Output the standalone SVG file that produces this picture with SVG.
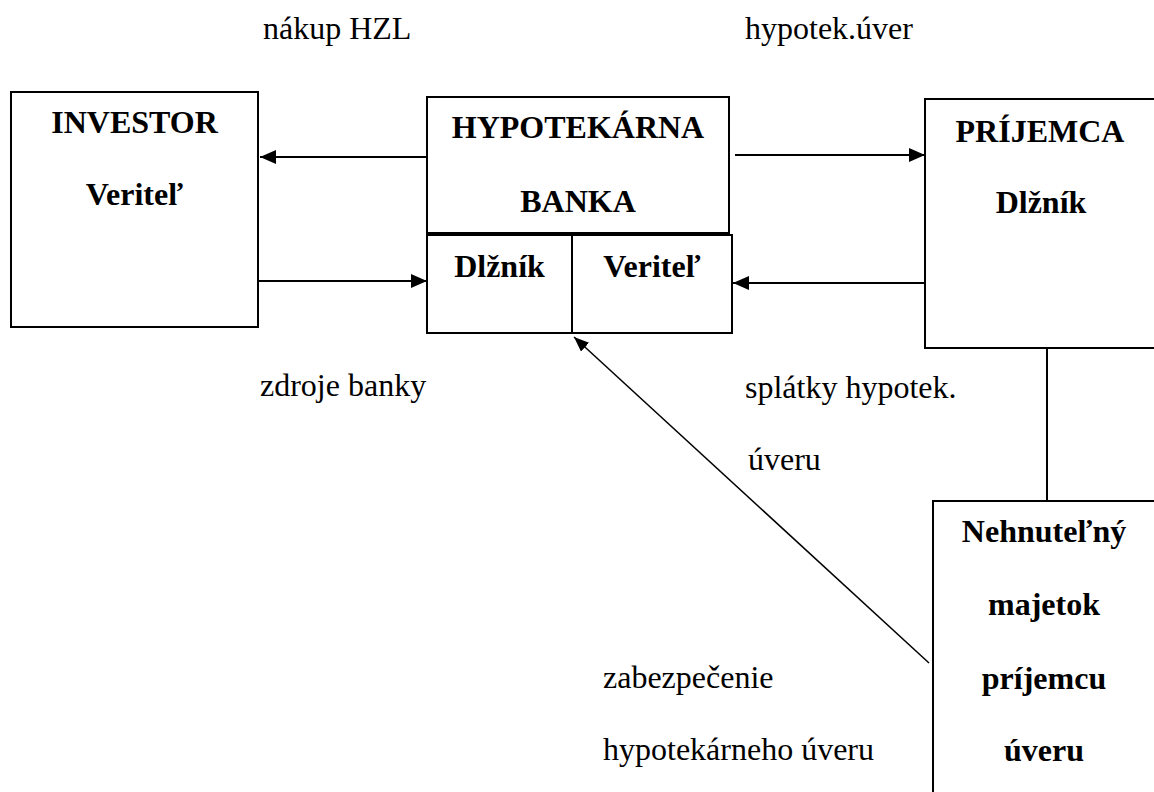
<svg xmlns="http://www.w3.org/2000/svg" width="1154" height="792" viewBox="0 0 1154 792" font-family="'Liberation Serif', 'DejaVu Serif', serif">
<style>
.box{fill:#fff;stroke:#000;stroke-width:2}
text{font-family:'Liberation Serif','DejaVu Serif',serif;font-size:32px;fill:#000}
.b{font-weight:bold;text-anchor:middle}
.c{stroke:#000;stroke-width:2;fill:none}
.d{stroke:#000;stroke-width:1.5;fill:none}
</style>
<defs>
<marker id="ah" markerUnits="userSpaceOnUse" markerWidth="18" markerHeight="16" refX="16" refY="7" orient="auto">
<path d="M0,0 L16,7 L0,14 Z" fill="#000"/>
</marker>
<marker id="ah2" markerUnits="userSpaceOnUse" markerWidth="16" markerHeight="14" refX="15" refY="6" orient="auto">
<path d="M0,0 L15,6 L0,12 Z" fill="#000"/>
</marker>
</defs>
<rect width="1154" height="792" fill="#fff"/>
<g id="investor">
<rect class="box" x="11" y="92" width="247" height="235"/>
<text class="b" x="134.5" y="133">INVESTOR</text>
<text class="b" x="134.5" y="205">Veriteľ</text>
</g>
<g id="banka">
<rect class="box" x="427" y="97" width="302" height="136"/>
<text class="b" x="578" y="138">HYPOTEKÁRNA</text>
<text class="b" x="578" y="212">BANKA</text>
</g>
<g id="banka-dlznik">
<rect class="box" x="427" y="235" width="145" height="98"/>
<text class="b" x="499.5" y="277">Dlžník</text>
</g>
<g id="banka-veritel">
<rect class="box" x="572" y="235" width="160" height="98"/>
<text class="b" x="652" y="277">Veriteľ</text>
</g>
<g id="prijemca">
<rect class="box" x="925" y="99" width="240" height="249"/>
<text class="b" x="1040" y="142">PRÍJEMCA</text>
<text class="b" x="1041" y="213">Dlžník</text>
</g>
<g id="nehnutelnost">
<rect class="box" x="933" y="501" width="240" height="310"/>
<text class="b" x="1044" y="542">Nehnuteľný</text>
<text class="b" x="1044" y="615">majetok</text>
<text class="b" x="1044" y="689">príjemcu</text>
<text class="b" x="1044" y="761">úveru</text>
</g>
<g id="connectors">
<line class="c" x1="427" y1="157" x2="260" y2="157" marker-end="url(#ah)"/>
<line class="c" x1="258" y1="281" x2="427" y2="281" marker-end="url(#ah)"/>
<line class="c" x1="735" y1="155" x2="925" y2="155" marker-end="url(#ah)"/>
<line class="c" x1="925" y1="283" x2="733" y2="283" marker-end="url(#ah)"/>
<line class="d" x1="929" y1="663" x2="574" y2="337" marker-end="url(#ah2)"/>
<line class="c" x1="1047" y1="348" x2="1047" y2="501"/>
</g>
<g id="labels">
<text x="263" y="39">nákup HZL</text>
<text x="745" y="39">hypotek.úver</text>
<text x="260" y="396">zdroje banky</text>
<text x="745" y="398">splátky hypotek.</text>
<text x="748" y="470">úveru</text>
<text x="603" y="688">zabezpečenie</text>
<text x="603" y="760">hypotekárneho úveru</text>
</g>
</svg>
